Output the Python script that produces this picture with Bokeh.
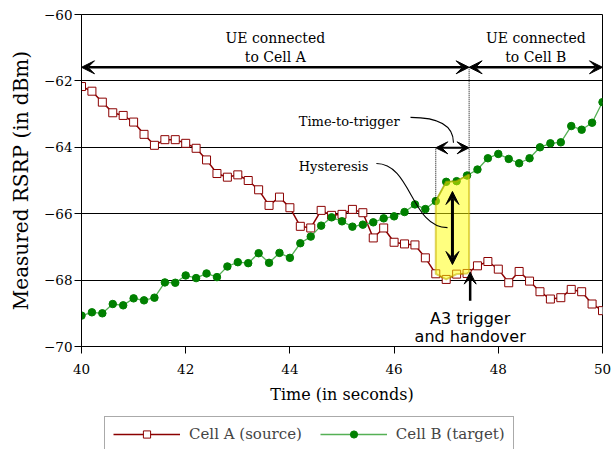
import numpy as np
from bokeh.plotting import figure
from bokeh.layouts import column
from bokeh.models import (Range1d, FixedTicker, Arrow, VeeHead, Label, Legend,
                          LegendItem)
from bokeh.embed import file_html
from bokeh.resources import INLINE

# ---------------- data ----------------
time = [40.0, 40.2, 40.4, 40.6, 40.8, 41.0, 41.2, 41.4, 41.6, 41.8,
        42.0, 42.2, 42.4, 42.6, 42.8, 43.0, 43.2, 43.4, 43.6, 43.8,
        44.0, 44.2, 44.4, 44.6, 44.8, 45.0, 45.2, 45.4, 45.6, 45.8,
        46.0, 46.2, 46.4, 46.6, 46.8, 47.0, 47.2, 47.4, 47.6, 47.8,
        48.0, 48.2, 48.4, 48.6, 48.8, 49.0, 49.2, 49.4, 49.6, 49.8, 50.0]

cell_a = [-62.17, -62.31, -62.64, -62.96, -63.04, -63.24, -63.61, -63.94, -63.77, -63.77,
          -63.88, -64.03, -64.38, -64.79, -64.90, -64.83, -65.00, -65.28, -65.75, -65.50,
          -65.82, -66.38, -66.43, -65.90, -66.05, -66.02, -65.87, -65.97, -66.73, -66.43,
          -66.86, -66.91, -66.94, -67.33, -67.81, -67.98, -67.82, -67.80, -67.57, -67.44,
          -67.67, -68.08, -67.74, -68.03, -68.35, -68.57, -68.53, -68.28, -68.35, -68.72, -68.92]

cell_b = [-69.07, -68.97, -69.00, -68.72, -68.76, -68.55, -68.61, -68.53, -68.07, -68.08,
          -67.86, -67.94, -67.80, -67.91, -67.59, -67.46, -67.49, -67.19, -67.48, -67.18,
          -67.33, -66.89, -66.69, -66.36, -66.11, -66.23, -66.39, -66.33, -66.26, -66.14,
          -66.08, -65.95, -65.72, -65.86, -65.62, -65.04, -65.02, -64.85, -64.67, -64.33,
          -64.20, -64.35, -64.48, -64.33, -64.00, -63.88, -63.85, -63.36, -63.47, -63.26, -62.64]

x_ticks = [40, 42, 44, 46, 48, 50]
y_ticks = [-70, -68, -66, -64, -62, -60]
y_tick_labels = ["\u221270", "\u221268", "\u221266", "\u221264", "\u221262", "\u221260"]

ttt_start = 46.8      # time-to-trigger starts
trigger_time = 47.44  # A3 trigger / handover
series_names = ["Cell A (source)", "Cell B (target)"]

SERIF = "DejaVu Serif"
SANS = "DejaVu Sans"
A_COLOR = "#8b0000"
B_LINE = "#55b055"
B_MARK = "#008000"

p = figure(width=613, height=415, output_backend="svg", toolbar_location=None,
           x_range=Range1d(40, 50), y_range=Range1d(-70, -60),
           min_border_left=81, min_border_right=11, min_border_top=14,
           min_border_bottom=69)
p.background_fill_color = "white"
p.border_fill_color = "white"
p.outline_line_color = "black"
p.outline_line_width = 1

# axes
p.xaxis.ticker = FixedTicker(ticks=x_ticks)
p.yaxis.ticker = FixedTicker(ticks=y_ticks)
p.yaxis.major_label_overrides = {v: s for v, s in zip(y_ticks, y_tick_labels)}
for ax in (p.xaxis[0], p.yaxis[0]):
    ax.axis_line_color = "black"
    ax.major_tick_line_color = "black"
    ax.major_tick_out = 7
    ax.major_tick_in = 0
    ax.minor_tick_line_color = None
    ax.major_label_text_font = SERIF
    ax.major_label_text_font_size = "13.5px"
    ax.major_label_text_color = "black"
    ax.axis_label_text_font = SERIF
    ax.axis_label_text_font_style = "normal"
    ax.axis_label_text_color = "black"
p.xaxis.axis_label = "Time (in seconds)"
p.yaxis.axis_label = "Measured RSRP (in dBm)"
p.xaxis.axis_label_text_font_size = "16px"
p.yaxis.axis_label_text_font_size = "20px"
p.xaxis.major_label_standoff = 10
p.yaxis.major_label_standoff = 2
p.xaxis.axis_label_standoff = 8
p.yaxis.axis_label_standoff = 8

p.xgrid.visible = False
p.ygrid.ticker = FixedTicker(ticks=y_ticks)
p.ygrid.grid_line_color = "black"
p.ygrid.grid_line_width = 1

# series
p.line(time, cell_a, line_color=A_COLOR, line_width=1.5)
p.scatter(time, cell_a, marker="square", size=8, fill_color="white",
          line_color=A_COLOR, line_width=1)
p.line(time, cell_b, line_color=B_LINE, line_width=1.3)
p.scatter(time, cell_b, marker="circle", size=7.5, fill_color=B_MARK,
          line_color=B_MARK)

# yellow hysteresis / TTT region (between the two curves)
t_arr = np.array(time)
a_arr = np.array(cell_a)
b_arr = np.array(cell_b)
inner = (t_arr > ttt_start + 1e-9) & (t_arr < trigger_time - 1e-9)
top_x = [ttt_start] + list(t_arr[inner]) + [trigger_time]
top_y = [np.interp(ttt_start, t_arr, b_arr)] + list(b_arr[inner]) + [np.interp(trigger_time, t_arr, b_arr)]
bot_x = [trigger_time] + list(t_arr[inner][::-1]) + [ttt_start]
bot_y = [np.interp(trigger_time, t_arr, a_arr)] + list(a_arr[inner][::-1]) + [np.interp(ttt_start, t_arr, a_arr)]
p.patch(top_x + bot_x, top_y + bot_y, fill_color="yellow", fill_alpha=0.5,
        line_color="#c8b400", line_alpha=0.6, line_width=2, line_join="round")

# dotted guide lines
b_start = float(np.interp(ttt_start, t_arr, b_arr))
b_trig = float(np.interp(trigger_time, t_arr, b_arr))
p.segment(x0=[ttt_start, trigger_time], y0=[-64.0, -61.59],
          x1=[ttt_start, trigger_time], y1=[b_start, b_trig],
          line_color="black", line_width=1, line_dash="1 1")

# leader curves
p.bezier(x0=[46.315], y0=[-63.10], x1=[47.14], y1=[-63.86],
         cx0=[46.89], cy0=[-63.10], cx1=[47.14], cy1=[-63.37],
         line_color="black", line_width=1.1)
p.bezier(x0=[45.66], y0=[-64.49], x1=[47.025], y1=[-66.42],
         cx0=[46.33], cy0=[-64.49], cx1=[46.33], cy1=[-66.42],
         line_color="black", line_width=1.1)

def head(sz):
    return VeeHead(size=sz, fill_color="black", line_color="black", line_width=1)

# top connection arrows
p.add_layout(Arrow(start=head(13), end=head(13), x_start=40, y_start=-61.59,
                   x_end=trigger_time, y_end=-61.59, line_width=2.5, line_color="black"))
p.add_layout(Arrow(start=head(13), end=head(13), x_start=trigger_time, y_start=-61.59,
                   x_end=50, y_end=-61.59, line_width=2.5, line_color="black"))
# time-to-trigger arrow
p.add_layout(Arrow(start=head(12), end=head(12), x_start=ttt_start, y_start=-64.015,
                   x_end=trigger_time, y_end=-64.015, line_width=2, line_color="black"))
# hysteresis arrow
hx = (ttt_start + trigger_time) / 2
p.add_layout(Arrow(start=head(13), end=head(13), x_start=hx, y_start=-65.33,
                   x_end=hx, y_end=-67.53, line_width=3, line_color="black"))
# A3 trigger arrow
p.add_layout(Arrow(end=head(12), x_start=trigger_time + 0.02, y_start=-68.62,
                   x_end=trigger_time + 0.02, y_end=-67.76, line_width=2.5, line_color="black"))

def lab(x, y, text, font=SERIF, size="14px", align="center", style="normal"):
    p.add_layout(Label(x=x, y=y, text=text, text_font=font, text_font_size=size,
                       text_align=align, text_baseline="alphabetic",
                       text_color="black", text_font_style=style))

lab((40 + trigger_time) / 2, -60.71, "UE connected")
lab((40 + trigger_time) / 2, -61.29, "to Cell A")
lab((trigger_time + 50) / 2, -60.71, "UE connected")
lab((trigger_time + 50) / 2, -61.29, "to Cell B")
lab(44.17, -63.22, "Time-to-trigger", size="13px", align="left")
lab(44.17, -64.58, "Hysteresis", size="13px", align="left")
lab(trigger_time + 0.02, -69.15, "A3 trigger", font=SANS, size="16px")
lab(trigger_time + 0.02, -69.70, "and handover", font=SANS, size="16px")

# ---------------- legend strip (below the chart) ----------------
# Same series, styled identically; the view range holds no data, so only the legend shows.
q = figure(width=613, height=34, output_backend="svg", toolbar_location=None,
           x_range=Range1d(0, 1), y_range=Range1d(0, 1),
           x_axis_type=None, y_axis_type=None, min_border=0)
q.outline_line_color = None
q.background_fill_color = "white"
q.border_fill_color = "white"
q.grid.visible = False
qla = q.line(time, cell_a, line_color=A_COLOR, line_width=1.5)
qsa = q.scatter(time, cell_a, marker="square", size=8, fill_color="white",
                line_color=A_COLOR, line_width=1)
qlb = q.line(time, cell_b, line_color=B_LINE, line_width=1.3)
qsb = q.scatter(time, cell_b, marker="circle", size=7.5, fill_color=B_MARK,
                line_color=B_MARK)

legend = Legend(items=[LegendItem(label=series_names[0], renderers=[qla, qsa]),
                       LegendItem(label=series_names[1], renderers=[qlb, qsb])],
                location=(23, -2.5), orientation="horizontal",
                glyph_width=67, glyph_height=18, label_standoff=9, spacing=18,
                padding=8, margin=0, border_line_color="#555555", border_line_width=1,
                label_text_font=SERIF, label_text_font_size="15px",
                background_fill_color="white", background_fill_alpha=1)
q.add_layout(legend, "center")

layout = column(p, q, spacing=0)
open("out.html", "w").write(file_html(layout, INLINE))
